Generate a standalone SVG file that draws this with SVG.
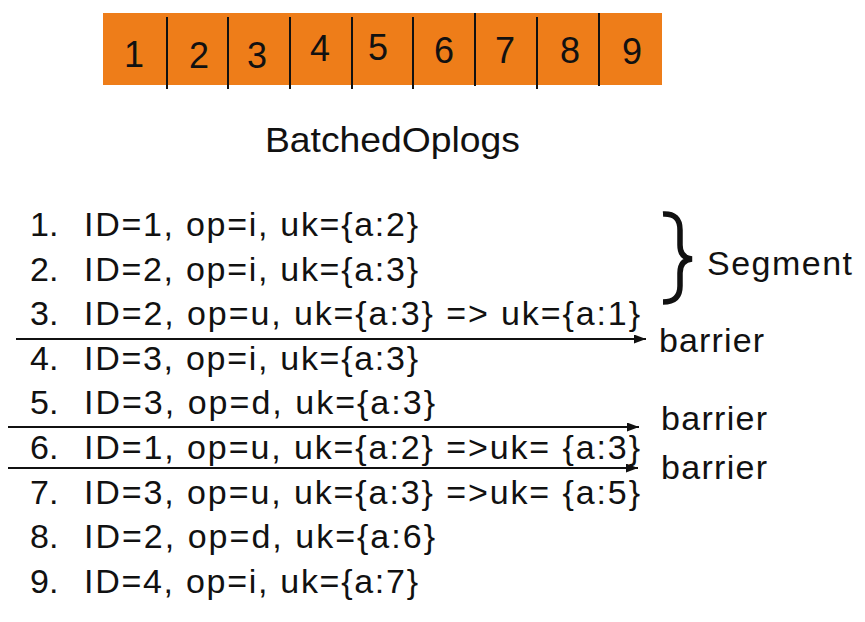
<svg xmlns="http://www.w3.org/2000/svg" width="865" height="622" viewBox="0 0 865 622">
<defs>
<style>
text{font-family:"Liberation Sans",Arial,sans-serif;fill:#111;}
.d{font-size:36px;text-anchor:middle;}
.l{font-size:34px;}
.div{stroke:#111;stroke-width:2;}
.arr{stroke:#111;stroke-width:2;fill:none;marker-end:url(#ah);}
</style>
<marker id="ah" viewBox="0 0 12 9" refX="12" refY="4.5" markerWidth="12" markerHeight="9" markerUnits="userSpaceOnUse" orient="auto">
<path d="M0,0 L12,4.5 L0,9 Z" fill="#111"/>
</marker>
</defs>
<rect width="865" height="622" fill="#fff"/>
<g id="batch">
<rect x="103" y="13" width="559" height="72" fill="#EE7D19"/>
<line class="div" x1="167" y1="17" x2="167" y2="89"/>
<line class="div" x1="228" y1="17" x2="228" y2="89"/>
<line class="div" x1="290" y1="17" x2="290" y2="89"/>
<line class="div" x1="352" y1="17" x2="352" y2="89"/>
<line class="div" x1="413" y1="17" x2="413" y2="89"/>
<line class="div" x1="475" y1="13" x2="475" y2="86"/>
<line class="div" x1="537" y1="17" x2="537" y2="89"/>
<line class="div" x1="599" y1="13" x2="599" y2="86"/>
<text class="d" x="134" y="67">1</text>
<text class="d" x="199" y="68">2</text>
<text class="d" x="257" y="68">3</text>
<text class="d" x="320" y="61">4</text>
<text class="d" x="378" y="60">5</text>
<text class="d" x="444" y="63">6</text>
<text class="d" x="505" y="63">7</text>
<text class="d" x="570" y="63">8</text>
<text class="d" x="632" y="64">9</text>
</g>
<g id="title"><text x="265" y="152" font-size="35" textLength="255" lengthAdjust="spacingAndGlyphs">BatchedOplogs</text></g>
<g id="oplogs">
<text class="l" x="30" y="236">1.</text><text class="l" x="84" y="236" textLength="334">ID=1, op=i, uk={a:2}</text>
<text class="l" x="30" y="281">2.</text><text class="l" x="84" y="281" textLength="334">ID=2, op=i, uk={a:3}</text>
<text class="l" x="30" y="325">3.</text><text class="l" x="84" y="325" textLength="556">ID=2, op=u, uk={a:3} =&gt; uk={a:1}</text>
<text class="l" x="30" y="370">4.</text><text class="l" x="84" y="370" textLength="334">ID=3, op=i, uk={a:3}</text>
<text class="l" x="30" y="414">5.</text><text class="l" x="84" y="414" textLength="351">ID=3, op=d, uk={a:3}</text>
<text class="l" x="30" y="459">6.</text><text class="l" x="84" y="459" textLength="556">ID=1, op=u, uk={a:2} =&gt;uk= {a:3}</text>
<text class="l" x="30" y="504">7.</text><text class="l" x="84" y="504" textLength="556">ID=3, op=u, uk={a:3} =&gt;uk= {a:5}</text>
<text class="l" x="30" y="548">8.</text><text class="l" x="84" y="548" textLength="351">ID=2, op=d, uk={a:6}</text>
<text class="l" x="30" y="593">9.</text><text class="l" x="84" y="593" textLength="334">ID=4, op=i, uk={a:7}</text>
</g>
<g id="segment">
<path d="M663,214 Q680,213 680,230 L680,245 Q680,258 692,259 Q680,260 680,273 L680,286 Q680,302 663,302" fill="none" stroke="#111" stroke-width="5.5"/>
<text class="l" x="707" y="275" textLength="145">Segment</text>
</g>
<g id="connectors">
<line class="arr" x1="16" y1="339" x2="646" y2="339"/>
<line class="arr" x1="8" y1="427" x2="639" y2="427"/>
<line class="arr" x1="8" y1="468" x2="638" y2="468"/>
</g>
<g id="labels">
<text class="l" x="659" y="352" textLength="105">barrier</text>
<text class="l" x="661" y="430" textLength="106">barrier</text>
<text class="l" x="661" y="479" textLength="106">barrier</text>
</g>
</svg>
